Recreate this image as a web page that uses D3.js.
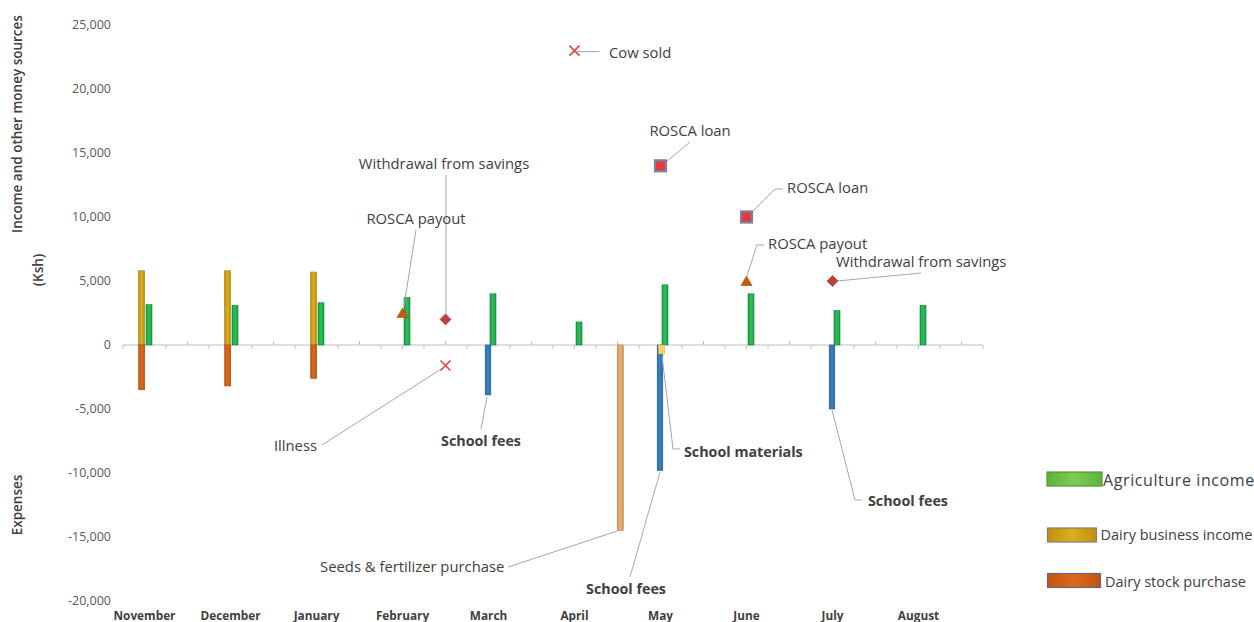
<!DOCTYPE html>
<html><head><meta charset="utf-8">
<script src="https://cdn.jsdelivr.net/npm/d3@7"></script>
<style>html,body{margin:0;padding:0;background:#fff;overflow:hidden}</style>
</head><body><svg id="chart" width="1254" height="622"></svg>
<script>
// ---------------- DATA ----------------
const months = ["November","December","January","February","March","April","May","June","July","August"];
const yTicks = [25000,20000,15000,10000,5000,0,-5000,-10000,-15000,-20000];

const agricultureIncome   = [3150,3100,3300,3700,4000,1800,4700,4000,2700,3100];
const dairyBusinessIncome = [5800,5800,5700];
const dairyStockPurchase  = [-3500,-3200,-2600];

const schoolFeesMonths = [4,6,8];      const schoolFees = [-3900,-9800,-5000];
const schoolMaterialsMonths = [6];     const schoolMaterials = [-700];
const seedsMonths = [5.5];             const seedsFertilizer = [-14500];

const roscaPayoutMonths = [3,7];       const roscaPayout = [2500,5000];
const roscaLoanMonths = [6,7];         const roscaLoan = [14000,10000];
const withdrawalMonths = [3.5,8];      const withdrawal = [2000,5000];
const cowSoldMonths = [5];             const cowSold = [23000];
const illnessMonths = [3.5];           const illness = [-1600];

const legendLabels = ["Agriculture income","Dairy business income","Dairy stock purchase"];

// ---------------- SETUP ----------------
const svg = d3.select("#chart");
const FONT = "'Open Sans', sans-serif";
const x = d3.scaleLinear().domain([-0.25, 9.75]).range([123, 983]);
const y = d3.scaleLinear().domain([-20000, 25000]).range([601, 25]);
const fmt = d3.formatLocale({ decimal: ".", thousands: ",", grouping: [3], currency: ["", ""], minus: "-" }).format(",");

const defs = svg.append("defs");
function hgrad(id, c1, c2) {
  const g = defs.append("linearGradient").attr("id", id).attr("x1","0").attr("x2","1").attr("y1","0").attr("y2","0");
  g.append("stop").attr("offset","0").attr("stop-color",c1);
  g.append("stop").attr("offset","0.5").attr("stop-color",c2);
  g.append("stop").attr("offset","1").attr("stop-color",c1);
}
hgrad("gGreen", "#1a9e45", "#2cc25a");
hgrad("gGold", "#bf8f0a", "#dcae22");
hgrad("gOrange", "#c2540f", "#dc6a1e");
hgrad("gBlue", "#2a6aa8", "#3a80c4");
hgrad("gTan", "#d8955a", "#eab078");
hgrad("gLegGreen", "#5fb03e", "#7dcc55");

// Y tick labels
svg.append("g").selectAll("text").data(yTicks).join("text")
  .attr("x", 111).attr("y", d => y(d)).attr("dy", "0.35em")
  .attr("text-anchor", "end").attr("font-family", FONT).attr("font-size", 12.5)
  .attr("fill", "#595959").text(d => fmt(d));

// Axis titles
function vtitle(text, cx, cy) {
  svg.append("text").attr("transform", `translate(${cx},${cy}) rotate(-90)`)
    .attr("text-anchor", "middle").attr("dy", "0.35em")
    .attr("font-family", FONT).attr("font-size", 13.5).attr("font-weight", 600)
    .attr("fill", "#404040").text(text);
}
vtitle("Income and other money sources", 17, 124);
vtitle("(Ksh)", 38, 270);
vtitle("Expenses", 17, 505);

// Month labels
svg.append("g").selectAll("text").data(months).join("text")
  .attr("x", (d, i) => x(i)).attr("y", 620).attr("text-anchor", "middle")
  .attr("font-family", FONT).attr("font-size", 11.8).attr("font-weight", 700)
  .attr("fill", "#404040").text(d => d);

// X axis line + ticks
const y0 = y(0);
svg.append("line").attr("x1", x(-0.25)).attr("x2", x(9.75)).attr("y1", y0).attr("y2", y0)
  .attr("stroke", "#bfbfbf").attr("stroke-width", 1);
const tickVals = d3.range(0, 41).map(i => -0.25 + i * 0.25);
svg.append("g").selectAll("line").data(tickVals).join("line")
  .attr("x1", d => x(d)).attr("x2", d => x(d))
  .attr("y1", y0)
  .attr("y2", (d) => (Math.abs(((d - 0.5) % 1 + 1) % 1) < 1e-6) ? y0 - 4 : y0 + 4)
  .attr("stroke", "#bfbfbf").attr("stroke-width", 1);

// ---------------- BARS ----------------
const barSeries = [
  { key: "agri", months: months.map((d, i) => i), values: agricultureIncome, off: 4.5, w: 6, fill: "url(#gGreen)", stroke: "#17843a" },
  { key: "dairyInc", months: dairyBusinessIncome.map((d, i) => i), values: dairyBusinessIncome, off: -3, w: 6, fill: "url(#gGold)", stroke: "#a67c08" },
  { key: "dairyStock", months: dairyStockPurchase.map((d, i) => i), values: dairyStockPurchase, off: -2.8, w: 6, fill: "url(#gOrange)", stroke: "#a8470c" },
  { key: "seeds", months: seedsMonths, values: seedsFertilizer, off: 2.8, w: 6, fill: "url(#gTan)", stroke: "#c0804a" },
  { key: "schoolFees", months: schoolFeesMonths, values: schoolFees, off: -0.5, w: 5.6, fill: "url(#gBlue)", stroke: "#245d94" },
  { key: "schoolMat", months: schoolMaterialsMonths, values: schoolMaterials, off: 1, w: 6, fill: "#f7d465", stroke: "#e0b840" }
];
const anchors = {};
barSeries.forEach(s => {
  const data = s.values.map((v, i) => ({ m: s.months[i], v }));
  anchors[s.key] = data.map(d => [x(d.m) + s.off, y(d.v)]);
  svg.append("g").selectAll("rect").data(data).join("rect")
    .attr("x", d => x(d.m) + s.off - s.w / 2)
    .attr("width", s.w)
    .attr("y", d => Math.min(y(d.v), y0))
    .attr("height", d => Math.abs(y(d.v) - y0))
    .attr("fill", s.fill).attr("stroke", s.stroke).attr("stroke-width", 0.6);
});

// ---------------- MARKERS ----------------
const markerSeries = [
  { key: "roscaPayout", months: roscaPayoutMonths, values: roscaPayout, type: "tri" },
  { key: "roscaLoan", months: roscaLoanMonths, values: roscaLoan, type: "sq" },
  { key: "withdrawal", months: withdrawalMonths, values: withdrawal, type: "dia" },
  { key: "cowSold", months: cowSoldMonths, values: cowSold, type: "x" },
  { key: "illness", months: illnessMonths, values: illness, type: "x" }
];

// ---------------- ANNOTATIONS (leader lines) ----------------
const annotations = [
  { key: "withdrawal", i: 0, text: "Withdrawal from savings", path: [[0.5,-4.5],[0.5,-144.5]], lab: [-1.5,-155.5], anchor: "middle" },
  { key: "roscaPayout", i: 0, text: "ROSCA payout", path: [[1.5,-7],[13.5,-83]], lab: [13.5,-94], anchor: "middle" },
  { key: "roscaLoan", i: 0, text: "ROSCA loan", path: [[5.5,-3.8],[29.5,-23.8]], lab: [29.5,-34.8], anchor: "middle" },
  { key: "roscaLoan", i: 1, text: "ROSCA loan", path: [[5.5,-5],[28.5,-28],[36.5,-28]], lab: [40.5,-29], anchor: "start" },
  { key: "roscaPayout", i: 1, text: "ROSCA payout", path: [[0.5,-5],[10.5,-36],[17.5,-36]], lab: [21.5,-37], anchor: "start" },
  { key: "withdrawal", i: 1, text: "Withdrawal from savings", path: [[4.5,0],[88.5,-8]], lab: [3.5,-19], anchor: "start" },
  { key: "cowSold", i: 0, text: "Cow sold", path: [[3,1],[25,1]], lab: [34.5,2], anchor: "start" },
  { key: "illness", i: 0, text: "Illness", path: [[-2.5,2.5],[-123.5,79.5]], lab: [-128.5,80.5], anchor: "end" },
  { key: "schoolFees", i: 0, text: "School fees", bold: true, path: [[-1,2],[-7,34]], lab: [-7,46], anchor: "middle" },
  { key: "schoolMat", i: 0, text: "School materials", bold: true, path: [[0.5,2],[11.5,95],[18.5,95]], lab: [22.5,98], anchor: "start" },
  { key: "schoolFees", i: 1, text: "School fees", bold: true, path: [[0,1.6],[-30,106.6]], lab: [-34,118.6], anchor: "middle" },
  { key: "seeds", i: 0, text: "Seeds & fertilizer purchase", path: [[-3,0.4],[-112,36.4]], lab: [-116,36.4], anchor: "end" },
  { key: "schoolFees", i: 2, text: "School fees", bold: true, path: [[0,1],[23,91],[30,91]], lab: [36,92], anchor: "start" }
];

markerSeries.forEach(s => {
  anchors[s.key] = s.values.map((v, i) => [x(s.months[i]), y(v)]);
});

const line = d3.line();
const annG = svg.append("g");
annotations.forEach(a => {
  const [px, py] = anchors[a.key][a.i];
  annG.append("path").attr("d", line(a.path.map(p => [px + p[0], py + p[1]])))
    .attr("fill", "none").attr("stroke", "#a6a6a6").attr("stroke-width", 1);
  annG.append("text").attr("x", px + a.lab[0]).attr("y", py + a.lab[1]).attr("dy", "0.35em")
    .attr("text-anchor", a.anchor).attr("font-family", FONT)
    .attr("font-size", a.bold ? 14.3 : 14.8).attr("font-weight", a.bold ? 700 : 400)
    .attr("fill", "#404040").text(a.text);
});

// draw markers on top
const mG = svg.append("g");
markerSeries.forEach(s => {
  s.values.forEach((v, i) => {
    const cx = x(s.months[i]), cy = y(v);
    if (s.type === "tri") {
      mG.append("path").attr("d", `M${cx},${cy - 5} L${cx + 5.5},${cy + 4.5} L${cx - 5.5},${cy + 4.5} Z`)
        .attr("fill", "#c55a11").attr("stroke", "#a84a0c").attr("stroke-width", 0.6);
    } else if (s.type === "sq") {
      mG.append("rect").attr("x", cx - 5.5).attr("y", cy - 5.5).attr("width", 11).attr("height", 11)
        .attr("fill", "#e53a3a").attr("stroke", "#7f7f9f").attr("stroke-width", 2.2);
    } else if (s.type === "dia") {
      mG.append("path").attr("d", `M${cx},${cy - 5.5} L${cx + 5.5},${cy} L${cx},${cy + 5.5} L${cx - 5.5},${cy} Z`)
        .attr("fill", "#c0403e").attr("stroke", "#a83434").attr("stroke-width", 0.6);
    } else {
      mG.append("path").attr("d", `M${cx - 5},${cy - 5} L${cx + 5},${cy + 5} M${cx - 5},${cy + 5} L${cx + 5},${cy - 5}`)
        .attr("stroke", "#e8453c").attr("stroke-width", 1.6).attr("fill", "none");
    }
  });
});

// ---------------- LEGEND ----------------
const legendStyles = [
  { fill: "url(#gLegGreen)", stroke: "#4c9a30", rx: 1047, ry: 472, rw: 55, tx: 1103, ty: 480, fs: 16, ls: 0.6 },
  { fill: "url(#gGold)", stroke: "#7f7f7f", rx: 1047.5, ry: 528, rw: 49, tx: 1100.5, ty: 535, fs: 14.5, ls: 0 },
  { fill: "url(#gOrange)", stroke: "#5a6a8a", rx: 1047.5, ry: 573.5, rw: 53, tx: 1105, ty: 582, fs: 14.5, ls: 0 }
];
const lg = svg.append("g");
legendLabels.forEach((t, i) => {
  const st = legendStyles[i];
  lg.append("rect").attr("x", st.rx).attr("y", st.ry).attr("width", st.rw).attr("height", 14)
    .attr("fill", st.fill).attr("stroke", st.stroke).attr("stroke-width", 1.2);
  lg.append("text").attr("x", st.tx).attr("y", st.ty).attr("dy", "0.35em")
    .attr("font-family", FONT).attr("font-size", st.fs).attr("letter-spacing", st.ls)
    .attr("fill", "#404040").text(t);
});
</script>
</body></html>
